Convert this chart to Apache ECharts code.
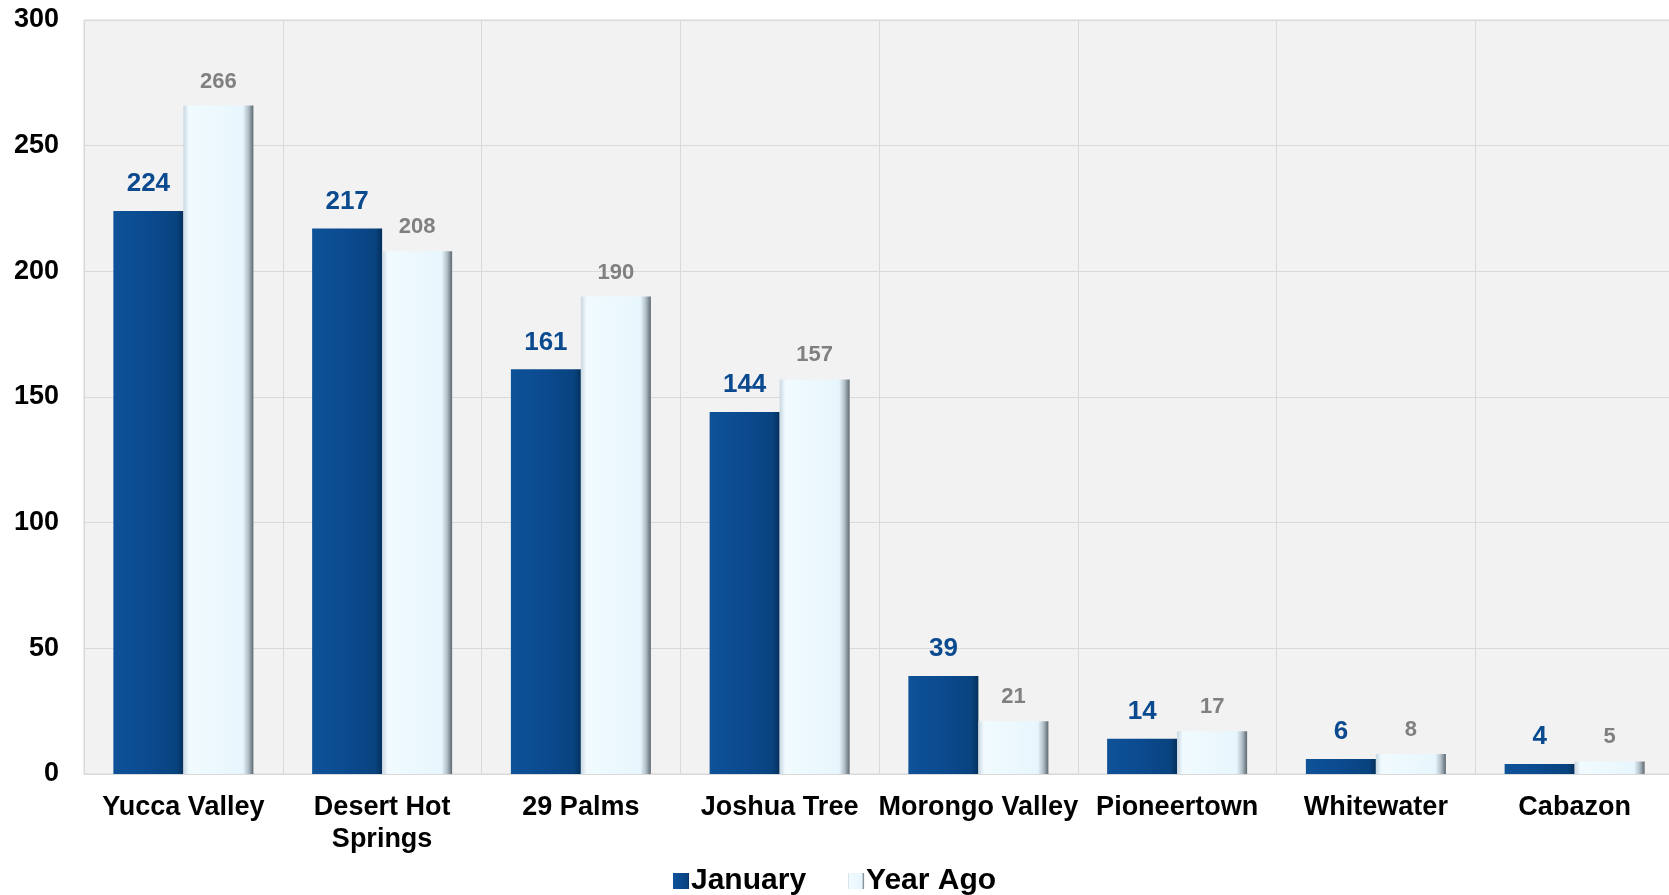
<!DOCTYPE html>
<html>
<head>
<meta charset="utf-8">
<script src="https://cdn.jsdelivr.net/npm/echarts@6/dist/echarts.min.js"></script>
<style>
html,body{margin:0;padding:0;background:#fff;overflow:hidden;}
#chart{width:1685px;height:895px;}
</style>
</head>
<body>
<div id="chart"></div>
<script>
const categories = ['Yucca Valley', 'Desert Hot\nSprings', '29 Palms', 'Joshua Tree', 'Morongo Valley', 'Pioneertown', 'Whitewater', 'Cabazon'];
const january = [224, 217, 161, 144, 39, 14, 6, 4];
const yearAgo = [266, 208, 190, 157, 21, 17, 8, 5];
const yTicks = [0, 50, 100, 150, 200, 250, 300];

const FONT = '"Liberation Sans", Arial, sans-serif';
const chart = echarts.init(document.getElementById('chart'));

const janFill = new echarts.graphic.LinearGradient(0, 0, 1, 0, [
  {offset: 0, color: '#0e5298'},
  {offset: 0.5, color: '#0b4a8f'},
  {offset: 0.9, color: '#09437f'},
  {offset: 1, color: '#05305c'}
]);
const yaFill = new echarts.graphic.LinearGradient(0, 0, 1, 0, [
  {offset: 0, color: '#c9d7e1'},
  {offset: 0.08, color: '#f1fbff'},
  {offset: 0.85, color: '#e7f6fd'},
  {offset: 0.93, color: '#b0bdc6'},
  {offset: 1, color: '#5d6870'}
]);

chart.setOption({
  animation: false,
  textStyle: {fontFamily: FONT},
  grid: {
    left: 84, right: 11, top: 20, bottom: 121,
    show: true, backgroundColor: '#f2f2f2', borderColor: '#d9d9d9', borderWidth: 1
  },
  legend: {
    bottom: -6, left: 668,
    itemWidth: 16, itemHeight: 16, itemGap: 42,
    textStyle: {fontSize: 30, fontWeight: 'bold', color: '#000', fontFamily: FONT, padding: [0, 0, 0, -3]},
    data: [
      {name: 'January', icon: 'rect', itemStyle: {color: janFill}},
      {name: 'Year Ago', icon: 'rect', itemStyle: {color: yaFill}}
    ]
  },
  xAxis: {
    type: 'category',
    data: categories,
    axisLine: {show: true, lineStyle: {color: '#d9d9d9', width: 1}},
    axisTick: {show: false},
    splitLine: {show: true, lineStyle: {color: '#d9d9d9', width: 1}},
    axisLabel: {
      fontSize: 27, fontWeight: 'bold', color: '#000', margin: 18,
      lineHeight: 32, fontFamily: FONT, interval: 0
    }
  },
  yAxis: {
    type: 'value',
    min: yTicks[0], max: yTicks[yTicks.length - 1], interval: 50,
    axisLine: {show: false},
    axisTick: {show: false},
    splitLine: {show: true, lineStyle: {color: '#d9d9d9', width: 1}},
    axisLabel: {fontSize: 27, fontWeight: 'bold', color: '#000', margin: 25, fontFamily: FONT}
  },
  series: [
    {
      name: 'January', type: 'bar', data: january,
      barWidth: 70, barGap: '0%',
      itemStyle: {color: janFill},
      label: {
        show: true, position: 'top', distance: 14,
        fontSize: 26, fontWeight: 'bold', color: '#0b4a8f', fontFamily: FONT
      }
    },
    {
      name: 'Year Ago', type: 'bar', data: yearAgo,
      barWidth: 70,
      itemStyle: {color: yaFill},
      label: {
        show: true, position: 'top', distance: 13,
        fontSize: 22, fontWeight: 'bold', color: '#808080', fontFamily: FONT
      }
    }
  ]
});
</script>
</body>
</html>
